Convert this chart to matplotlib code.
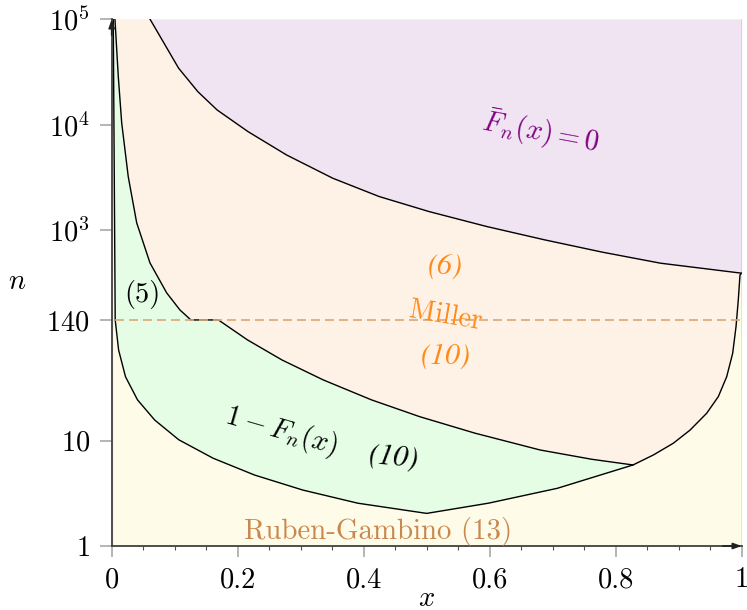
import numpy as np
import matplotlib
matplotlib.use('Agg')
import matplotlib.pyplot as plt
from matplotlib.ticker import NullLocator, MultipleLocator

plt.rcParams['mathtext.fontset'] = 'cm'
plt.rcParams['font.family'] = 'cmr10'
plt.rcParams['axes.formatter.use_mathtext'] = True

# 上边界: 绿色区域 (5) / (10)
green_x = [0.0052, 0.0105, 0.0159, 0.0263, 0.0397, 0.0608, 0.0873, 0.1084,
           0.1257, 0.1694, 0.2157, 0.2705, 0.336, 0.4124, 0.4889, 0.5763,
           0.680, 0.762, 0.8275]
green_n = [1e5, 28600, 10400, 3210, 1170, 487, 253, 174,
           140, 140, 90.4, 58.3, 37.7, 24.4, 16.9, 11.8,
           8.16, 6.66, 5.88]

# 下边界: Ruben-Gambino (13)
low_x = [0.0025, 0.0056, 0.011, 0.0219, 0.041, 0.0683, 0.1065, 0.1611,
         0.2267, 0.3032, 0.3906, 0.5, 0.598, 0.7073, 0.8275, 0.8597,
         0.8914, 0.918, 0.9444, 0.9629, 0.9762, 0.9857, 0.991, 0.9946,
         0.9973, 1.0]
low_n = [1e5, 140, 72.6, 40.5, 24.4, 15.7, 10.2, 6.81,
         4.72, 3.40, 2.55, 2.04, 2.55, 3.53, 5.88, 7.31,
         9.45, 12.6, 18.2, 26.2, 40.5, 67.6, 121, 217,
         375, 389]

# Fbar_n(x) = 0 边界
top_x = [0.061, 0.0816, 0.1062, 0.1367, 0.1673, 0.2163, 0.2775, 0.351,
         0.4244, 0.504, 0.5959, 0.6878, 0.7795, 0.8713, 1.0]
top_n = [1e5, 61500, 34400, 20600, 13800, 8600, 5160, 3100,
         2080, 1495, 1077, 805, 615, 484, 389]

miller_n = 140
yticks = [1, 10, 140, 1e3, 1e4, 1e5]
ylabels = [r'$\mathrm{1}$', r'$\mathrm{10}$', r'$\mathrm{140}$',
           r'$\mathrm{10}^{\mathrm{3}}$', r'$\mathrm{10}^{\mathrm{4}}$',
           r'$\mathrm{10}^{\mathrm{5}}$']
xticks = [0, 0.2, 0.4, 0.6, 0.8, 1]
xlabels = ['0', '0.2', '0.4', '0.6', '0.8', '1']

c_purple = '#f0e4f2'
c_orange = '#fef1e6'
c_green = '#e4fde4'
c_yellow = '#fffbe9'
c_text_orange = '#ff8a1a'

fig = plt.figure(figsize=(7.47, 6.10), dpi=100)
ax = fig.add_axes([0.1495, 0.1049, 0.8434, 0.8634])
ax.set_yscale('log')

# 区域填充
ax.fill_between([0, 1], [1, 1], [1e5, 1e5], color=c_orange, lw=0)
ax.fill_between(top_x, top_n, 1e5, color=c_purple, lw=0)
low_part = [(x, n) for x, n in zip(low_x, low_n) if x <= 0.83]
poly_x = green_x + [p[0] for p in low_part[::-1]]
poly_n = green_n + [p[1] for p in low_part[::-1]]
ax.fill(poly_x, poly_n, color=c_green, lw=0)
ax.fill_between(low_x, 1, low_n, color=c_yellow, lw=0)

# 曲线
ax.plot(top_x, top_n, color='black', lw=1.0)
ax.plot(green_x, green_n, color='black', lw=1.0)
ax.plot(low_x, low_n, color='black', lw=1.0)
ax.plot([0.005, 1.0], [miller_n, miller_n], color='#dba878', lw=1.2,
        ls=(0, (5.4, 3)))
ax.axvline(1.0, color='#808080', lw=1.0)

ax.set_xlim(0, 1)
ax.set_ylim(1, 1e5)

# 文字
fs = 20.5
ital = dict(family='STIXGeneral', style='italic')
ax.text(0.681, 8500, r'$\bar{F}_n(x) = 0$', color='#800080', fontsize=fs,
        rotation=-10.5, ha='center', va='center', rotation_mode='anchor')
ax.text(0.530, 454, '(6)', color=c_text_orange, fontsize=fs + 1,
        ha='center', va='center', **ital)
ax.text(0.530, 152, 'Miller', color=c_text_orange, fontsize=fs,
        rotation=-9.7, ha='center', va='center', rotation_mode='anchor')
ax.text(0.530, 63.6, '(10)', color=c_text_orange, fontsize=fs + 1,
        ha='center', va='center', **ital)
ax.text(0.049, 246, '(5)', color='black', fontsize=fs,
        ha='center', va='center')
ax.text(0.269, 12.3, r'$1 - F_n(x)$', color='black', fontsize=fs,
        rotation=-16, ha='center', va='center', rotation_mode='anchor')
ax.text(0.447, 6.84, '(10)', color='black', fontsize=fs + 1,
        rotation=-5, ha='center', va='center', rotation_mode='anchor', **ital)
ax.text(0.4236, 1.387, 'Ruben-Gambino (13)', color='#c8884f', fontsize=fs + 0.3,
        ha='center', va='center')

ax.text(0.5, -0.1005, r'$x$', transform=ax.transAxes, fontsize=fs,
        ha='center', va='center')
ax.text(-0.1497, 0.501, r'$n$', transform=ax.transAxes, fontsize=fs,
        ha='center', va='center')

# 坐标轴
ax.set_yticks(yticks)
ax.set_yticklabels(ylabels)
ax.yaxis.set_minor_locator(NullLocator())
ax.set_xticks(xticks)
ax.set_xticklabels(xlabels)
ax.xaxis.set_minor_locator(MultipleLocator(0.05))
ax.tick_params(which='major', length=8, width=1.2, color='#a8a8a8',
               direction='out', labelsize=fs, pad=7)
ax.tick_params(axis='y', which='major', length=8.6)
ax.tick_params(which='minor', length=2.8, width=0.8, color='#505050',
               direction='out')
for t in ax.yaxis.get_major_ticks()[-2:]:
    t.tick1line.set_color('#707070')

for s in ['top', 'right']:
    ax.spines[s].set_visible(False)
for s in ['left', 'bottom']:
    ax.spines[s].set_color('#404040')
    ax.spines[s].set_linewidth(1.3)

ax.annotate('', xy=(0, 1.0), xytext=(0, 0.97), xycoords='axes fraction',
            arrowprops=dict(arrowstyle='-|>,head_length=0.5,head_width=0.18',
                            color='#202020', lw=1.2, shrinkA=0, shrinkB=0))
ax.annotate('', xy=(1.0, 0), xytext=(0.97, 0), xycoords='axes fraction',
            arrowprops=dict(arrowstyle='-|>,head_length=0.5,head_width=0.18',
                            color='#202020', lw=1.2, shrinkA=0, shrinkB=0))

fig.savefig('out.png', dpi=100)
